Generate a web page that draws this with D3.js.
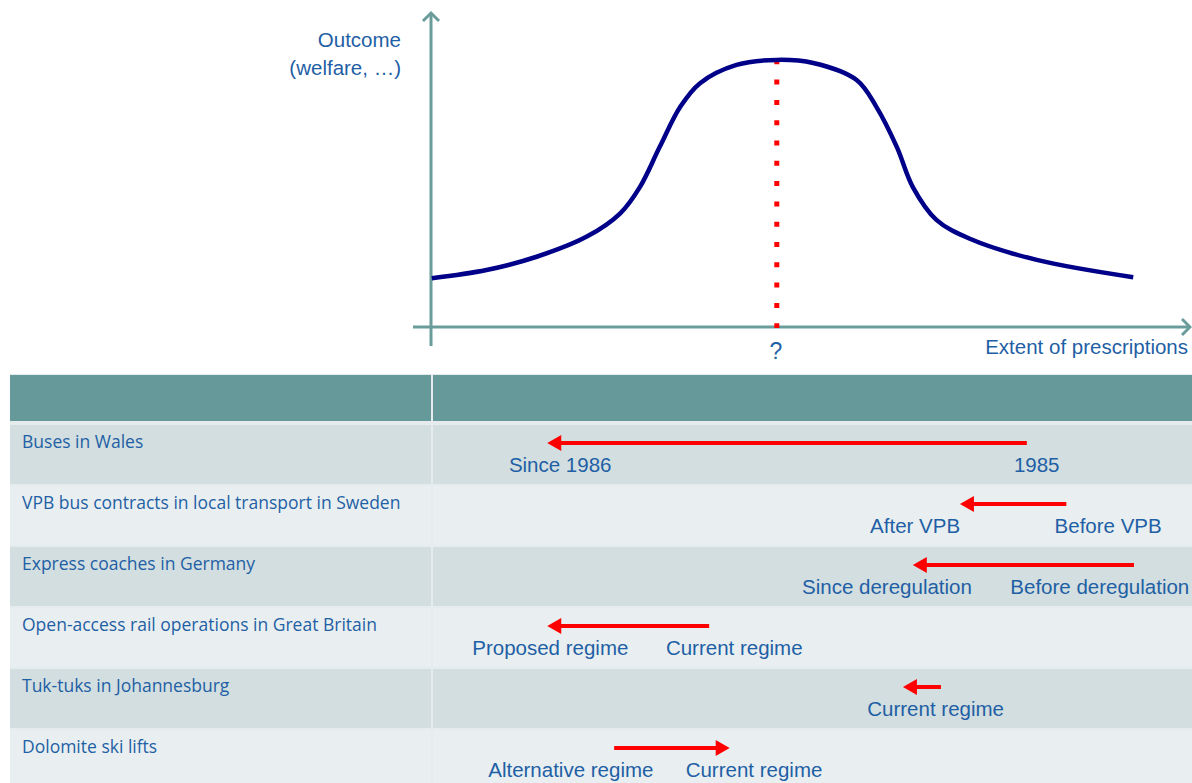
<!DOCTYPE html>
<html><head><meta charset="utf-8">
<script src="https://cdn.jsdelivr.net/npm/d3@7"></script>
<style>html,body{margin:0;padding:0;background:#fff;}svg{display:block;}</style>
</head><body>
<svg id="c" width="1192" height="783"></svg>
<script>
// ---- data ----
const curveX = [0.1, 7.3, 13.9, 20.5, 24.9, 27.5, 30.1, 32.8, 35.4, 40.2, 45.5, 50.3, 56.0, 58.6, 61.3, 63.4, 66.5, 70.9, 79.7, 92.4];
const curveY = [15.5, 18.1, 22.3, 28.7, 36.1, 44.5, 57.2, 69.9, 77.4, 83.2, 84.8, 83.8, 78.4, 69.9, 57.1, 44.4, 34.0, 28.0, 21.3, 15.8];
const optimum = 45.5;
const optimumLabel = "?";
const yAxisLabel = ["Outcome", "(welfare, …)"];
const xAxisLabel = "Extent of prescriptions";

const rows = ["Buses in Wales", "VPB bus contracts in local transport in Sweden", "Express coaches in Germany",
  "Open-access rail operations in Great Britain", "Tuk-tuks in Johannesburg", "Dolomite ski lifts"];
const arrowFrom = [78.4, 83.6, 92.5, 36.6, 67.1, 24.1];
const arrowTo   = [15.3, 69.6, 63.4, 15.3, 62.1, 39.3];
const leftLabels   = ["Since 1986", "After VPB", "Since deregulation", "Proposed regime", "", "Alternative regime"];
const leftLabelAt  = [17.0, 63.7, 60.0, 15.7, 0, 18.4];
const rightLabels  = ["1985", "Before VPB", "Before deregulation", "Current regime", "Current regime", "Current regime"];
const rightLabelAt = [79.7, 89.1, 88.0, 39.9, 66.4, 42.5];

// ---- drawing ----
const svg = d3.select("#c");
const teal = "#6a9c9c", blue = "#1f5fa5", navy = "#000088", red = "#ff0000";
const x = d3.scaleLinear().domain([0, 100]).range([431, 1191]);
const y = d3.scaleLinear().domain([0, 100]).range([327, 12]);

// axes
const axisG = svg.append("g").attr("stroke", teal).attr("stroke-width", 3).attr("fill", "none");
axisG.append("line").attr("x1", x(0)).attr("x2", x(0)).attr("y1", 346).attr("y2", y(100) + 1);
axisG.append("line").attr("x1", 413).attr("x2", x(100) - 1).attr("y1", y(0)).attr("y2", y(0));
axisG.append("path").attr("d", `M${x(0) - 8},${y(100) + 9}L${x(0)},${y(100) + 1}L${x(0) + 8},${y(100) + 9}`);
axisG.append("path").attr("d", `M${x(100) - 9},${y(0) - 8}L${x(100) - 1},${y(0)}L${x(100) - 9},${y(0) + 8}`);

// dotted optimum line
svg.append("line").attr("x1", x(optimum)).attr("x2", x(optimum))
  .attr("y1", 59.3).attr("y2", y(0) + 1)
  .attr("stroke", red).attr("stroke-width", 5).attr("stroke-dasharray", "5 15.3");

// curve
const line = d3.line().x((d, i) => x(curveX[i])).y((d, i) => y(curveY[i])).curve(d3.curveCatmullRom.alpha(0.5));
svg.append("path").attr("d", line(curveX)).attr("fill", "none").attr("stroke", navy).attr("stroke-width", 4.5);

// axis texts
const tFont = "'Liberation Sans', Arial, sans-serif";
const fs = 20.5;
svg.append("text").attr("x", 401).attr("y", 47).attr("text-anchor", "end").attr("font-family", tFont)
  .attr("font-size", fs).attr("fill", blue).text(yAxisLabel[0]);
svg.append("text").attr("x", 401).attr("y", 75).attr("text-anchor", "end").attr("font-family", tFont)
  .attr("font-size", fs).attr("fill", blue).text(yAxisLabel[1]);
svg.append("text").attr("x", 1188).attr("y", 354).attr("text-anchor", "end").attr("font-family", tFont)
  .attr("font-size", fs).attr("fill", blue).text(xAxisLabel);
svg.append("text").attr("x", x(optimum) - 1).attr("y", 359).attr("text-anchor", "middle").attr("font-family", tFont)
  .attr("font-size", 23).attr("fill", blue).text(optimumLabel);

// table
const tableTop = 374, headerH = 47, rowTop0 = 425, rowStep = 61, rowH = 59;
svg.append("rect").attr("x", 10).attr("y", tableTop).attr("width", 1182).attr("height", 783 - tableTop).attr("fill", "#e6ebed");
svg.append("rect").attr("x", 10).attr("y", tableTop + 1).attr("width", 421).attr("height", headerH - 1).attr("fill", "#669999");
svg.append("rect").attr("x", 433).attr("y", tableTop + 1).attr("width", 759).attr("height", headerH - 1).attr("fill", "#669999");

const rowG = svg.selectAll("g.row").data(rows).join("g").attr("class", "row")
  .attr("transform", (d, i) => `translate(0,${rowTop0 + i * rowStep})`);
rowG.append("rect").attr("x", 10).attr("y", 0).attr("width", 421).attr("height", rowH)
  .attr("fill", (d, i) => i % 2 === 0 ? "#d2dedf" : "#e9eff0");
rowG.append("rect").attr("x", 433).attr("y", 0).attr("width", 759).attr("height", rowH)
  .attr("fill", (d, i) => i % 2 === 0 ? "#d2dedf" : "#e9eff0");
rowG.append("text").attr("x", 22).attr("y", 23).attr("font-family", "'Open Sans', Lato, sans-serif")
  .attr("font-size", 17.5).attr("fill", blue).text(d => d);

// arrows
rowG.each(function (d, i) {
  const g = d3.select(this);
  const ay = 18;
  const x1 = x(arrowFrom[i]), x2 = x(arrowTo[i]);
  const dir = x2 > x1 ? 1 : -1;
  const headL = 14, headW = 8;
  g.append("line").attr("x1", x1).attr("x2", x2 - dir * headL + dir * 1).attr("y1", ay).attr("y2", ay)
    .attr("stroke", red).attr("stroke-width", 4);
  g.append("path").attr("d", `M${x2},${ay}L${x2 - dir * headL},${ay - headW}L${x2 - dir * headL},${ay + headW}Z`)
    .attr("fill", red);
  if (leftLabels[i]) g.append("text").attr("x", x(leftLabelAt[i])).attr("y", 47).attr("text-anchor", "middle")
    .attr("font-family", tFont).attr("font-size", fs).attr("fill", blue).text(leftLabels[i]);
  if (rightLabels[i]) g.append("text").attr("x", x(rightLabelAt[i])).attr("y", 47).attr("text-anchor", "middle")
    .attr("font-family", tFont).attr("font-size", fs).attr("fill", blue).text(rightLabels[i]);
});
</script>
</body></html>
